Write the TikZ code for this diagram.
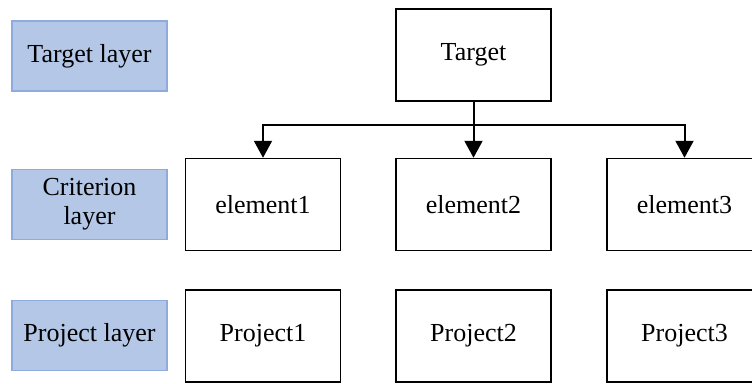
\documentclass[tikz,border=0pt]{standalone}
\usepackage{fontspec}
\setmainfont{Liberation Serif}
\usetikzlibrary{arrows.meta}
\definecolor{layerfill}{HTML}{B4C7E7}
\definecolor{layerdraw}{HTML}{8FAADC}
\tikzset{
	layerbox/.style={draw=layerdraw,fill=layerfill,line width=1.5,minimum width=155pt,minimum height=70pt,align=center,inner sep=0pt},
	itembox/.style={draw,line width=1.5,minimum width=155pt,minimum height=92pt,inner sep=0pt},
	arr/.style={-{Triangle[length=17pt,width=18pt]},line width=2}
}

\begin{document}
\begin{tikzpicture}[x=1pt,y=-1pt,font=\fontsize{26}{29}\selectfont]
	\useasboundingbox (0,0) rectangle (752,383);
	% layers
	\node[layerbox] (LT) at (89.5,56) {Target layer};
	\node[layerbox] (LC) at (89.5,204.5) {Criterion\\layer};
	\node[layerbox] (LP) at (89.5,335.5) {Project layer};
	% boxes
	\node[itembox] (T) at (473.5,55) {Target};
	\node[itembox] (E1) at (263,204.5) {element1};
	\node[itembox] (E2) at (473.5,204.5) {element2};
	\node[itembox] (E3) at (684.5,204.5) {element3};
	\node[itembox] (P1) at (263,336) {Project1};
	\node[itembox] (P2) at (473.5,336) {Project2};
	\node[itembox] (P3) at (684.5,336) {Project3};
	% arrows
	\coordinate (bus) at (473.5,125);
	\draw[arr] (T.south) -- (E2.north);
	\draw[arr] (bus) -| (E1.north);
	\draw[arr] (bus) -| (E3.north);
\end{tikzpicture}
\end{document}
